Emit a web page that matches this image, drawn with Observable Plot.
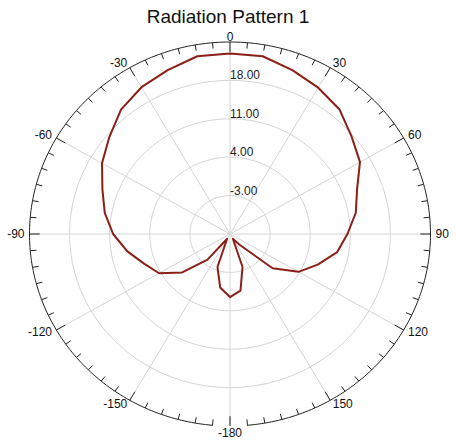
<!DOCTYPE html>
<html><head><meta charset="utf-8">
<script src="https://cdn.jsdelivr.net/npm/d3@7"></script>
<script src="https://cdn.jsdelivr.net/npm/@observablehq/plot@0.6"></script>
<style>
body{margin:0;background:#fff;}
#title{height:24px;box-sizing:border-box;padding-top:8px;text-align:center;font:19px "Liberation Sans",Arial,sans-serif;line-height:18px;color:#111;white-space:nowrap;}
#chart svg{display:block;}
</style></head><body>
<div id="title">Radiation Pattern 1</div>
<div id="chart"></div>
<script>
// ---- data (degrees, dB) ----
const angles = [-180,-170,-160,-150,-140,-130,-120,-110,-100,-90,-80,-70,-60,-50,-40,-30,-20,-10,0,10,20,30,40,50,60,70,80,90,100,110,120,130,140,150,160,170,180];
const gainDb = [1.5,-0.1,-3.6,-9,-3.9,0.9,4.3,5.9,8.2,10.4,12.2,13.7,15.8,17.5,19.6,20.9,21.8,22.9,22.9,22.9,21.8,20.8,19.7,17.7,16.2,13.6,12.3,10.5,9.0,6.3,3.8,-0.3,-7.5,-9,-3.6,0.5,1.5];
const ringValues = [-3, 4, 11, 18];
const ringLabels = ["-3.00", "4.00", "11.00", "18.00"];
const angleTicks = [-150,-120,-90,-60,-30,0,30,60,90,120,150,180];
const angleLabels = ["-150","-120","-90","-60","-30","0","30","60","90","120","150","-180"];
const rMin = -10, rMax = 25;

// ---- helpers ----
const rad = d => d * Math.PI / 180;
const norm = v => (v - rMin) / (rMax - rMin);
const RX = 200.5, RY = 192;

const pattern = angles.map((a, i) => ({a, v: gainDb[i]}));
const ringPts = [];
for (const rv of ringValues) for (let a = 0; a <= 360; a += 2) ringPts.push({ring: rv, a});
const outerPts = [];
for (let a = -175; a <= 175; a += 1) outerPts.push({a});
const spokes = d3.range(0, 360, 30);
const ticks = d3.range(-175, 181, 5).map(a => ({a, major: a % 30 === 0}));
const rLabels = ringValues.map((v, i) => ({v, t: ringLabels[i]}));

const px = (a, r) => r * Math.sin(rad(a));
const py = (a, r) => r * Math.cos(rad(a));

// angle labels just outside the rim
const gap = a => (a === 0 ? 1 : a === 180 ? 2 : 5);
const labels = angleTicks.map((a, i) => ({
  a, t: angleLabels[i],
  x: Math.sin(rad(a)) * (1 + gap(a) / RX),
  y: Math.cos(rad(a)) * (1 + gap(a) / RY)
}));

const font = "'Liberation Sans', Arial, sans-serif";
const chart = Plot.plot({
  width: 456, height: 419, margin: 0,
  x: {domain: [-1, 1], range: [29, 430], axis: null},
  y: {domain: [-1, 1], range: [401.5, 17.5], axis: null},
  style: {fontFamily: font, background: "white", overflow: "visible"},
  marks: [
    Plot.line(ringPts, {x: d => px(d.a, norm(d.ring)), y: d => py(d.a, norm(d.ring)), z: "ring", stroke: "#d4d4d4", strokeWidth: 1}),
    Plot.link(spokes, {x1: () => 0, y1: () => 0, x2: d => px(d, 1), y2: d => py(d, 1), stroke: "#d4d4d4", strokeWidth: 1}),
    Plot.line(outerPts, {x: d => px(d.a, 1), y: d => py(d.a, 1), stroke: "#222", strokeWidth: 1}),
    Plot.link(ticks, {x1: d => px(d.a, 1), y1: d => py(d.a, 1),
      x2: d => px(d.a, 1 - (d.major ? 10 : 6) / 196), y2: d => py(d.a, 1 - (d.major ? 10 : 6) / 196),
      stroke: "#222", strokeWidth: 1}),
    Plot.text(rLabels, {x: () => 0, y: d => norm(d.v), text: "t", textAnchor: "start", lineAnchor: "bottom", dy: -1, fontSize: 12, fill: "#222"}),
    Plot.text(labels.filter(d => d.a > 0 && d.a < 180), {x: "x", y: "y", text: "t", textAnchor: "start", fontSize: 12, fill: "#111"}),
    Plot.text(labels.filter(d => d.a < 0), {x: "x", y: "y", text: "t", textAnchor: "end", fontSize: 12, fill: "#111"}),
    Plot.text(labels.filter(d => d.a === 0), {x: "x", y: "y", text: "t", textAnchor: "middle", lineAnchor: "bottom", fontSize: 12, fill: "#111"}),
    Plot.text(labels.filter(d => d.a === 180), {x: "x", y: "y", text: "t", textAnchor: "middle", lineAnchor: "top", fontSize: 12, fill: "#111"}),
    Plot.line(pattern, {x: d => px(d.a, norm(d.v)), y: d => py(d.a, norm(d.v)), stroke: "#8a1f17", strokeWidth: 2, strokeLinejoin: "round"})
  ]
});
document.getElementById("chart").append(chart);
</script>
</body></html>
